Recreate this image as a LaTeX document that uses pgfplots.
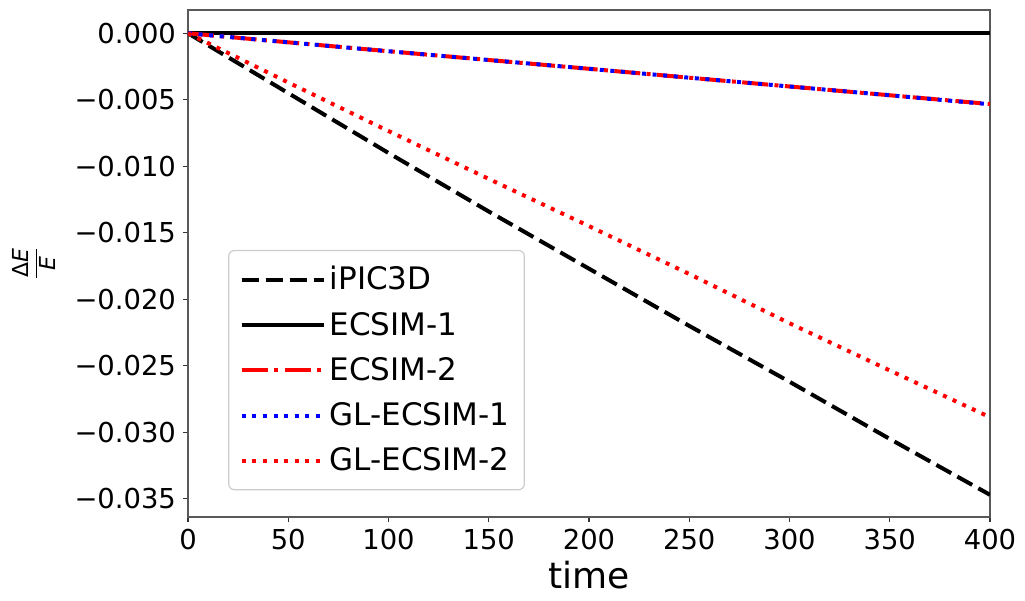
\documentclass[border=0pt]{standalone}
\usepackage{fontspec}
\setmainfont{DejaVu Sans}
\usepackage{pgfplots}
\pgfplotsset{compat=1.18}
\begin{document}
\begin{tikzpicture}
\begin{axis}[
  scale only axis, width=401pt, height=253.5pt,
  xmin=0, xmax=400, ymin=-0.03637, ymax=0.00175,
  xtick={0,50,...,400},
  ytick={-0.035,-0.03,-0.025,-0.02,-0.015,-0.01,-0.005,0},
  yticklabels={−0.035,−0.030,−0.025,−0.020,−0.015,−0.010,−0.005,0.000},
  scaled y ticks=false,
  /pgf/number format/assume math mode=true,
  tick align=outside, major tick length=2.5pt,
  tick style={black!80, line width=0.6pt},
  axis line style={black!65, line width=0.6pt},
  xtick pos=bottom, ytick pos=left,
  ticklabel style={font=\fontsize{13.7}{16}\selectfont},
  xlabel={time},
  xlabel style={font=\fontsize{18}{20}\selectfont, at={([yshift=-29pt]axis description cs:0.5,0)}, anchor=center},
  legend style={at={(axis description cs:0.05,0.527)}, anchor=north west, draw=black!20, rounded corners=3pt, line width=0.6pt, font=\fontsize{15.5}{18}\selectfont, row sep=5.6pt, inner xsep=5.5pt, inner ysep=6pt, cells={anchor=west}},
  legend image code/.code={\draw[#1] (0pt,0pt) -- (32.5pt,0pt); \path (0pt,0pt) -- (41pt,0pt);},
]
\addplot[black, line width=2pt, dash pattern=on 8.5pt off 3.5pt] coordinates {
(0,0) (50,-0.0045) (100,-0.0090) (150,-0.0134) (200,-0.0177) (250,-0.0220) (300,-0.0262) (350,-0.0305) (400,-0.0347)};
\addlegendentry{iPIC3D}
\addplot[black, line width=2pt] coordinates {(0,0) (400,0)};
\addlegendentry{ECSIM-1}
\addplot[red, line width=2pt, dash pattern=on 13pt off 3.2pt on 2pt off 3.2pt] coordinates {
(0,0) (50,-0.00068) (100,-0.00135) (150,-0.00201) (200,-0.00267) (250,-0.00334) (300,-0.00400) (350,-0.00466) (400,-0.00532)};
\addlegendentry{ECSIM-2}
\addplot[blue, line width=2pt, dash pattern=on 2pt off 3.3pt] coordinates {
(0,0) (50,-0.00068) (100,-0.00135) (150,-0.00201) (200,-0.00267) (250,-0.00334) (300,-0.00400) (350,-0.00466) (400,-0.00534)};
\addlegendentry{GL-ECSIM-1}
\addplot[red, line width=2pt, dash pattern=on 2pt off 3.3pt] coordinates {
(0,0) (50,-0.00370) (100,-0.00735) (150,-0.01095) (200,-0.01450) (250,-0.01810) (300,-0.02180) (350,-0.02535) (400,-0.02887)};
\addlegendentry{GL-ECSIM-2}
\end{axis}
\node[rotate=90, anchor=center, inner sep=0pt] at ([xshift=-77pt]current axis.west) {$\displaystyle\frac{\mbox{\fontsize{11}{12}\selectfont Δ\textit{E}}}{\mbox{\fontsize{11}{12}\selectfont\textit{E}}}$};
\pgfresetboundingbox
\path (current axis.south west) ++(-94pt,-42pt) rectangle ++(512.5pt,300.5pt);
\end{tikzpicture}
\end{document}
